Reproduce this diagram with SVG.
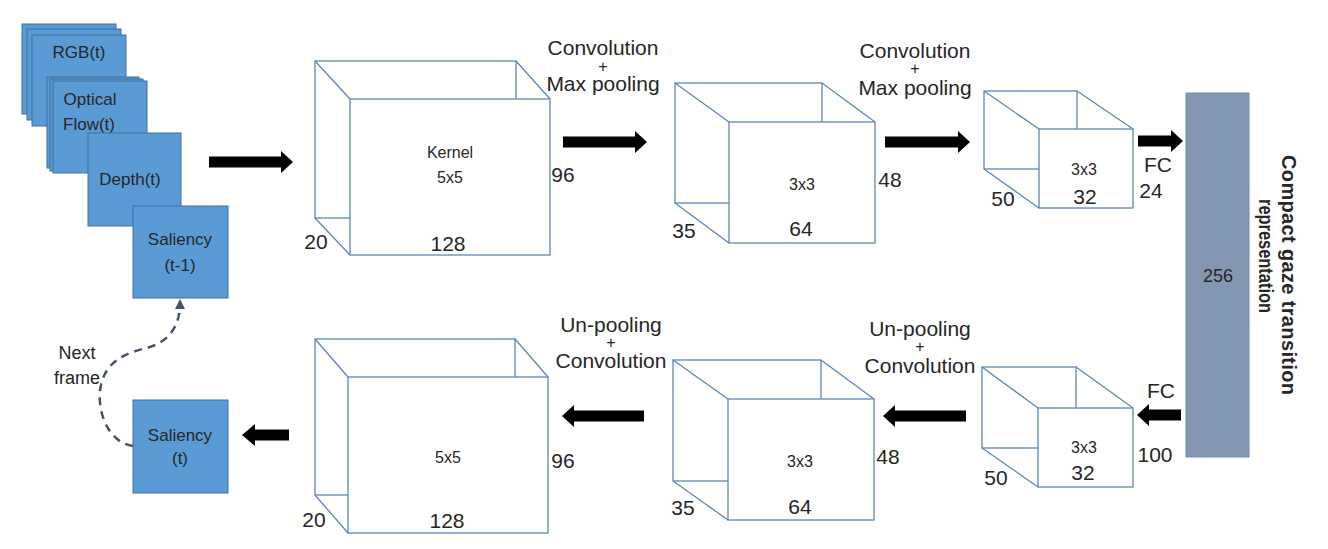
<svg xmlns="http://www.w3.org/2000/svg" width="1328" height="549" viewBox="0 0 1328 549">
<defs>
<style>
text{font-family:"Liberation Sans",Arial,sans-serif;fill:#262626;}
.in{fill:#5b9bd5;stroke:#41719c;stroke-width:1;}
.cb{fill:#fff;stroke:#5f88b6;stroke-width:1.3;}
.ln{stroke:#5f88b6;stroke-width:1.3;fill:none;}
.ar{fill:#000;}
.t17{font-size:17px;text-anchor:middle;}
.t16{font-size:16px;text-anchor:middle;}
.t21{font-size:21px;text-anchor:middle;}
.pl{font-size:16px;text-anchor:middle;}
.rot{font-weight:bold;text-anchor:middle;}
</style>
<marker id="ah" markerWidth="10" markerHeight="10" refX="5" refY="5" orient="auto" markerUnits="userSpaceOnUse">
<path d="M0,0 L10,5 L0,10 z" fill="#44546a"/>
</marker>
</defs>
<rect width="1328" height="549" fill="#fff"/>

<g id="input-rgb">
<rect class="in" x="22" y="24" width="94" height="90"/>
<rect class="in" x="27" y="29" width="94" height="91"/>
<rect class="in" x="32" y="35" width="94" height="91"/>
<text class="t17" x="79" y="58">RGB(t)</text>
</g>
<g id="input-flow">
<rect class="in" x="47" y="77" width="92" height="91"/>
<rect class="in" x="50" y="79" width="93" height="92"/>
<rect class="in" x="53" y="81" width="94" height="92"/>
<text class="t17" x="90" y="105">Optical</text>
<text class="t17" x="89" y="130">Flow(t)</text>
</g>
<g id="input-depth">
<rect class="in" x="88" y="133" width="93" height="93"/>
<text class="t17" x="130" y="185">Depth(t)</text>
</g>
<g id="input-saliency-prev">
<rect class="in" x="133" y="206" width="95" height="92"/>
<text class="t17" x="180" y="245">Saliency</text>
<text class="t17" x="180" y="271">(t-1)</text>
</g>
<g id="output-saliency">
<rect class="in" x="133" y="400" width="95" height="93"/>
<text class="t17" x="180" y="441">Saliency</text>
<text class="t17" x="180" y="464">(t)</text>
</g>

<g id="enc1">
<rect class="cb" x="315" y="61" width="201" height="157"/>
<path class="ln" d="M315,61 L350,99 M516,61 L550,99 M315,218 L350,255"/>
<rect class="cb" x="350" y="99" width="200" height="156"/>
<text class="t16" x="450" y="158">Kernel</text>
<text class="t16" x="450" y="183">5x5</text>
<text class="t21" x="448" y="251">128</text>
<text class="t21" x="316" y="249">20</text>
<text class="t21" x="563" y="182">96</text>
</g>
<g id="enc2">
<rect class="cb" x="675" y="83" width="147" height="120"/>
<path class="ln" d="M675,83 L729,122 M822,83 L875,122 M675,203 L729,243"/>
<rect class="cb" x="729" y="122" width="146" height="121"/>
<text class="t16" x="802" y="190">3x3</text>
<text class="t21" x="801" y="236">64</text>
<text class="t21" x="684" y="238">35</text>
<text class="t21" x="890" y="187">48</text>
</g>
<g id="enc3">
<rect class="cb" x="984" y="91" width="93" height="78"/>
<path class="ln" d="M984,91 L1039,129 M1077,91 L1133,129 M984,169 L1039,208"/>
<rect class="cb" x="1039" y="129" width="94" height="79"/>
<text class="t16" x="1084" y="175">3x3</text>
<text class="t21" x="1085" y="204">32</text>
<text class="t21" x="1003" y="206">50</text>
</g>
<g id="latent">
<rect x="1186" y="93" width="63" height="364" fill="#8497b0" stroke="#6a8cba" stroke-width="1"/>
<text x="1218" y="282" font-size="18" text-anchor="middle">256</text>
<text class="rot" font-size="20" transform="translate(1282,275) rotate(90)" textLength="240" lengthAdjust="spacing">Compact gaze transition</text>
<text class="rot" font-size="20" transform="translate(1259,256) rotate(90)" textLength="114" lengthAdjust="spacingAndGlyphs">representation</text>
</g>
<g id="dec3">
<rect class="cb" x="982" y="367" width="94" height="81"/>
<path class="ln" d="M982,367 L1038,408 M1076,367 L1133,408 M982,448 L1038,487"/>
<rect class="cb" x="1038" y="408" width="95" height="79"/>
<text class="t16" x="1084" y="453">3x3</text>
<text class="t21" x="1083" y="480">32</text>
<text class="t21" x="996" y="485">50</text>
</g>
<g id="dec2">
<rect class="cb" x="673" y="360" width="148" height="121"/>
<path class="ln" d="M673,360 L728,399 M821,360 L874,399 M673,481 L728,520"/>
<rect class="cb" x="728" y="399" width="146" height="121"/>
<text class="t16" x="800" y="467">3x3</text>
<text class="t21" x="800" y="514">64</text>
<text class="t21" x="683" y="515">35</text>
<text class="t21" x="888" y="464">48</text>
</g>
<g id="dec1">
<rect class="cb" x="315" y="339" width="200" height="156"/>
<path class="ln" d="M315,339 L348,377 M515,339 L548,377 M315,495 L348,533"/>
<rect class="cb" x="348" y="377" width="200" height="156"/>
<text class="t16" x="448" y="463">5x5</text>
<text class="t21" x="447" y="528">128</text>
<text class="t21" x="314" y="527">20</text>
<text class="t21" x="563" y="468">96</text>
</g>

<g id="connectors">
<polygon class="ar" points="209,156.5 281,156.5 281,151 293,162 281,173 281,167.5 209,167.5"/>
<polygon class="ar" points="563,136.5 635,136.5 635,131 647,142 635,153 635,147.5 563,147.5"/>
<polygon class="ar" points="885,136.5 958,136.5 958,131 970,142 958,153 958,147.5 885,147.5"/>
<polygon class="ar" points="1138,135.5 1171,135.5 1171,130 1183,141 1171,152 1171,146.5 1138,146.5"/>
<polygon class="ar" points="1137,415 1149,404 1149,409.5 1181,409.5 1181,420.5 1149,420.5 1149,426"/>
<polygon class="ar" points="883,416 895,405 895,410.5 966,410.5 966,421.5 895,421.5 895,427"/>
<polygon class="ar" points="562,416 574,405 574,410.5 644,410.5 644,421.5 574,421.5 574,427"/>
<polygon class="ar" points="242,435 255,424 255,429.5 289,429.5 289,440.5 255,440.5 255,446"/>
<path d="M133,446 C105,442 96,405 101,385 C107,358 130,352 150,347 C172,340 180,322 180,304" fill="none" stroke="#44546a" stroke-width="2.5" stroke-dasharray="8,6" marker-end="url(#ah)"/>
<text class="t21" x="603" y="55">Convolution</text>
<text class="pl" x="603" y="72">+</text>
<text class="t21" x="603" y="91">Max pooling</text>
<text class="t21" x="915" y="58">Convolution</text>
<text class="pl" x="915" y="74">+</text>
<text class="t21" x="915" y="95">Max pooling</text>
<text class="t21" x="1158" y="172">FC</text>
<text class="t21" x="1151" y="198">24</text>
<text class="t21" x="1161" y="398">FC</text>
<text class="t21" x="1155" y="462">100</text>
<text class="t21" x="920" y="336">Un-pooling</text>
<text class="pl" x="920" y="352">+</text>
<text class="t21" x="920" y="373">Convolution</text>
<text class="t21" x="611" y="332">Un-pooling</text>
<text class="pl" x="611" y="348">+</text>
<text class="t21" x="611" y="368">Convolution</text>
<text x="77" y="359" font-size="18" text-anchor="middle">Next</text>
<text x="77" y="384" font-size="18" text-anchor="middle">frame</text>
</g>
</svg>
